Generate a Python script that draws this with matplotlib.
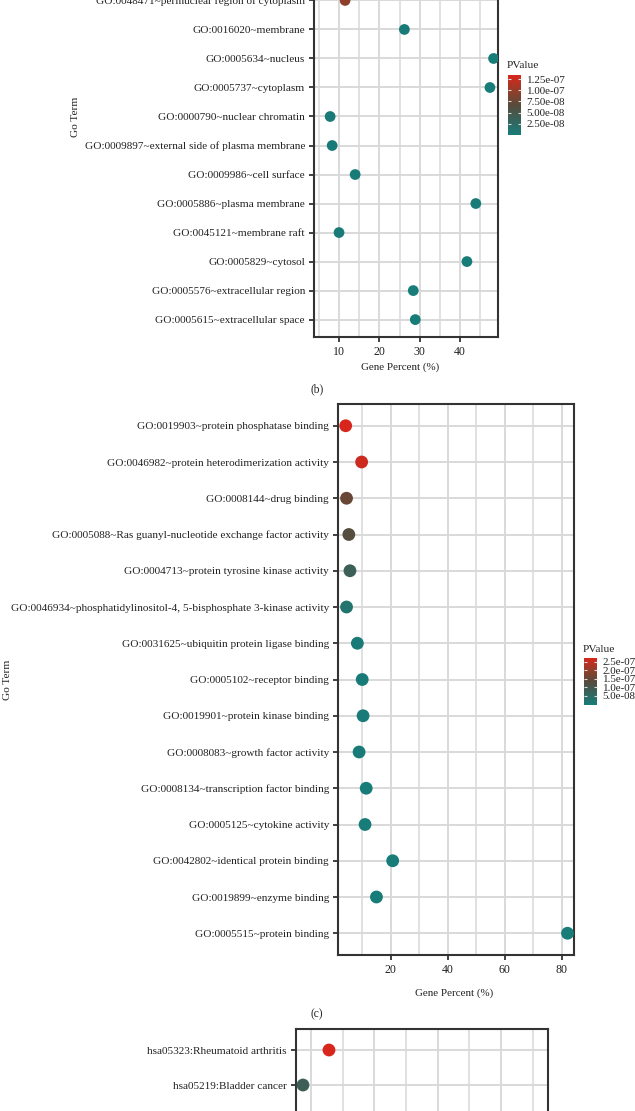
import matplotlib
matplotlib.use('Agg')
import matplotlib.pyplot as plt
from matplotlib.colors import LinearSegmentedColormap, Normalize
from matplotlib.ticker import MultipleLocator

plt.rcParams['font.family'] = ['Liberation Serif', 'DejaVu Serif']

W, H = 635, 1111  # output size in pixels

# (b) GO cellular component (upper rows are cut off in the source figure)
terms_b = ['GO:0048471~perinuclear region of cytoplasm', 'GO:0016020~membrane',
           'GO:0005634~nucleus', 'GO:0005737~cytoplasm', 'GO:0000790~nuclear chromatin',
           'GO:0009897~external side of plasma membrane', 'GO:0009986~cell surface',
           'GO:0005886~plasma membrane', 'GO:0045121~membrane raft', 'GO:0005829~cytosol',
           'GO:0005576~extracellular region', 'GO:0005615~extracellular space']
pct_b = [11.5, 26.2, 48.3, 47.4, 7.8, 8.3, 14.0, 43.9, 10.0, 41.7, 28.4, 28.9]
pval_b = [9.5e-08, 2e-09, 1e-09, 1e-09, 3e-09, 2e-09, 2e-09, 1e-09, 3e-09, 1e-09, 1e-09, 1e-09]
cbar_ticks_b = [2.5e-08, 5.0e-08, 7.5e-08, 1.0e-07, 1.25e-07]

# (c) GO molecular function
terms_c = ['GO:0019903~protein phosphatase binding', 'GO:0046982~protein heterodimerization activity',
           'GO:0008144~drug binding', 'GO:0005088~Ras guanyl-nucleotide exchange factor activity',
           'GO:0004713~protein tyrosine kinase activity',
           'GO:0046934~phosphatidylinositol-4, 5-bisphosphate 3-kinase activity',
           'GO:0031625~ubiquitin protein ligase binding', 'GO:0005102~receptor binding',
           'GO:0019901~protein kinase binding', 'GO:0008083~growth factor activity',
           'GO:0008134~transcription factor binding', 'GO:0005125~cytokine activity',
           'GO:0042802~identical protein binding', 'GO:0019899~enzyme binding',
           'GO:0005515~protein binding']
pct_c = [4.2, 9.8, 4.5, 5.3, 5.7, 4.5, 8.3, 10.0, 10.3, 8.9, 11.4, 11.0, 20.7, 15.0, 82.1]
pval_c = [2.75e-07, 2.6e-07, 1.55e-07, 1.3e-07, 8e-08, 2.5e-08, 5e-09, 3e-09, 3e-09,
          3e-09, 2e-09, 2e-09, 1e-09, 1e-09, 1e-10]
cbar_ticks_c = [5.0e-08, 1.0e-07, 1.5e-07, 2.0e-07, 2.5e-07]

# (d) KEGG pathways (lower rows are cut off in the source figure)
terms_d = ['hsa05323:Rheumatoid arthritis', 'hsa05219:Bladder cancer']
pct_d = [2.57, 1.75]
pval_d = [4.0e-06, 1.2e-06]

cmap = LinearSegmentedColormap.from_list('pv', [
    (0.0, '#187c79'), (0.3, '#3d5e56'), (0.5, '#594a3b'),
    (0.7, '#8a402c'), (1.0, '#d9261c')])

GRID = '#d9d9d9'
INK = '#222222'
FS = 8.15


def box(l, t, r, b):
    return [l / W, 1 - b / H, (r - l) / W, (b - t) / H]


def ftext(x, y, s, **kw):
    fig.text(x / W, 1 - y / H, s, ha=kw.pop('ha', 'center'), va=kw.pop('va', 'center'),
             fontsize=kw.pop('fontsize', FS), color=INK, **kw)


def panel(rect, terms, pct, pval, clim, xlim, ylim, major, minor, dot):
    ax = fig.add_axes(box(*rect))
    ypos = list(range(len(terms)))
    sc = ax.scatter(pct, ypos, c=pval, cmap=cmap, norm=Normalize(*clim), s=dot,
                    linewidths=0, zorder=3)
    ax.set_yticks(ypos)
    ax.set_yticklabels(terms, fontsize=FS)
    ax.set_xlim(*xlim)
    ax.set_ylim(*ylim)
    ax.xaxis.set_major_locator(MultipleLocator(major))
    ax.xaxis.set_minor_locator(MultipleLocator(minor))
    ax.tick_params(which='minor', length=0)
    ax.tick_params(which='major', length=3.5, width=1.3, color='#333333', pad=3,
                   labelcolor=INK)
    ax.tick_params(axis='x', labelsize=8.6)
    ax.set_axisbelow(True)
    ax.grid(which='major', color=GRID, lw=1.4)
    ax.grid(which='minor', axis='x', color=GRID, lw=1.1)
    for s in ax.spines.values():
        s.set_color('#333333')
        s.set_linewidth(1.5)
    return ax, sc


def legend(sc, rect, ticks, fmt, title_y):
    cax = fig.add_axes(box(*rect))
    cb = fig.colorbar(sc, cax=cax, ticks=ticks, format=fmt)
    cb.outline.set_visible(False)
    cax.tick_params(direction='in', left=True, right=True, length=2.5, width=0.8,
                    color='#dddddd', labelsize=7.9, labelcolor=INK, pad=4)
    ftext(rect[0] - 1, title_y, 'PValue', ha='left', fontsize=8.2)


fig = plt.figure(figsize=(W / 100, H / 100), dpi=100)

# panel (b)
ax_b, sc_b = panel((314, -104, 498, 337), terms_b, pct_b, pval_b, (0, 1.34e-07),
                   (3.8, 49.4), (11.6, -3.6), 10, 5, 60)
ftext(400, 367, 'Gene Percent (%)', fontsize=7.9)
ftext(75, 117, 'Go Term', rotation=90)
ftext(317, 389, '(b)', fontsize=8.3)
legend(sc_b, (508, 75, 521, 135), cbar_ticks_b, '%.2e', 66)

# panel (c)
ax_c, sc_c = panel((338, 404, 573.5, 955), terms_c, pct_c, pval_c, (0, 2.75e-07),
                   (1.5, 84.2), (14.6, -0.6), 20, 10, 85)
ftext(454, 993, 'Gene Percent (%)', fontsize=7.9)
ftext(8, 680, 'Go Term', rotation=90)
ftext(317, 1014, '(c)', fontsize=8.3)
legend(sc_c, (584, 657.5, 597, 704.5), cbar_ticks_c, '%.1e', 650)

# panel (d): its x axis lies below the cropped edge
ax_d, _ = panel((296, 1029, 548, 1140), terms_d, pct_d, pval_d, (0, 4.0e-06),
                (1.53, 9.48), (2.57, -0.6), 2, 1, 85)
ax_d.tick_params(axis='x', labelbottom=False, bottom=False)

fig.savefig('out.png', dpi=100)
